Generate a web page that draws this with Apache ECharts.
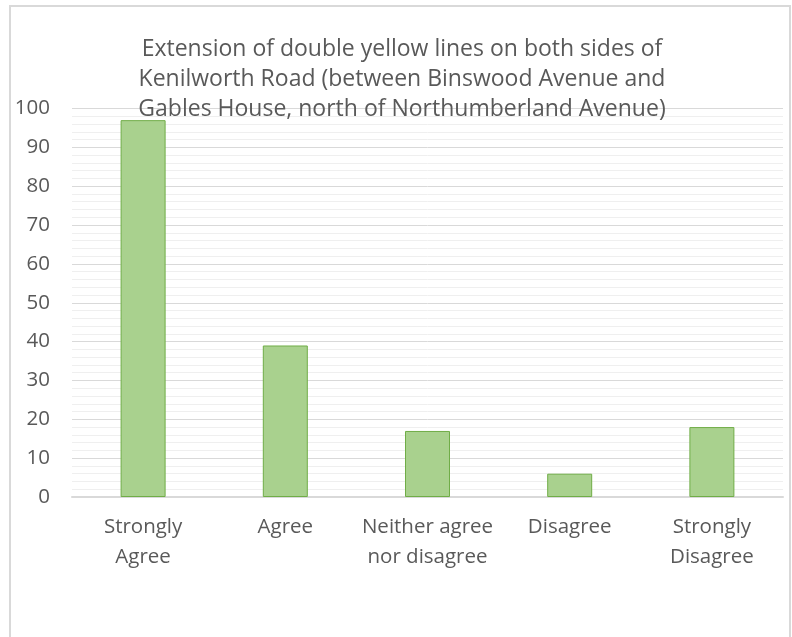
<!DOCTYPE html>
<html>
<head>
<meta charset="utf-8">
<script src="https://cdn.jsdelivr.net/npm/echarts@6/dist/echarts.min.js"></script>
<style>
  html, body { margin: 0; padding: 0; background: #fff; }
  #chart { width: 792px; height: 637px; }
</style>
</head>
<body>
<div id="chart"></div>
<script>
const titleText = 'Extension of double yellow lines on both sides of\nKenilworth Road (between Binswood Avenue and\nGables House, north of Northumberland Avenue)'
const categories = ['Strongly\nAgree', 'Agree', 'Neither agree\nnor disagree', 'Disagree', 'Strongly\nDisagree']
const responses = [97, 39, 17, 6, 18]
const yMin = 0
const yMax = 100
const yStep = 10

const chart = echarts.init(document.getElementById('chart'))
const font = '"Open Sans", Lato, sans-serif'

chart.setOption({
  animation: false,
  textStyle: { fontFamily: font },
  title: {
    text: titleText,
    left: 397,
    top: 29,
    textAlign: 'center',
    textStyle: { fontFamily: font, fontSize: 23, fontWeight: 'normal', color: '#595959', lineHeight: 30 },
  },
  graphic: [
    {
      type: 'rect',
      shape: { x: 10, y: 6, width: 780, height: 700 },
      style: { fill: 'none', stroke: '#d9d9d9', lineWidth: 2 },
      silent: true,
      z: -1,
    },
  ],
  grid: { top: 108.5, bottom: 140, left: 72, right: 9 },
  xAxis: {
    type: 'category',
    data: categories,
    axisTick: { show: false },
    axisLine: { lineStyle: { color: '#d9d9d9', width: 2 } },
    axisLabel: { color: '#595959', fontSize: 20.5, lineHeight: 30, margin: 15, interval: 0 },
  },
  yAxis: {
    type: 'value',
    min: yMin,
    max: yMax,
    interval: yStep,
    axisLine: { show: false },
    axisTick: { show: false },
    axisLabel: { color: '#595959', fontSize: 20.5, margin: 22 },
    splitLine: { lineStyle: { color: '#d9d9d9', width: 1 } },
    minorTick: { show: false, splitNumber: 5 },
    minorSplitLine: { show: true, lineStyle: { color: '#efefef', width: 1 } },
  },
  series: [
    {
      type: 'bar',
      data: responses,
      barWidth: 45,
      itemStyle: { color: '#a9d18e', borderColor: '#70ad47', borderWidth: 1 },
    },
  ],
})
</script>
</body>
</html>
